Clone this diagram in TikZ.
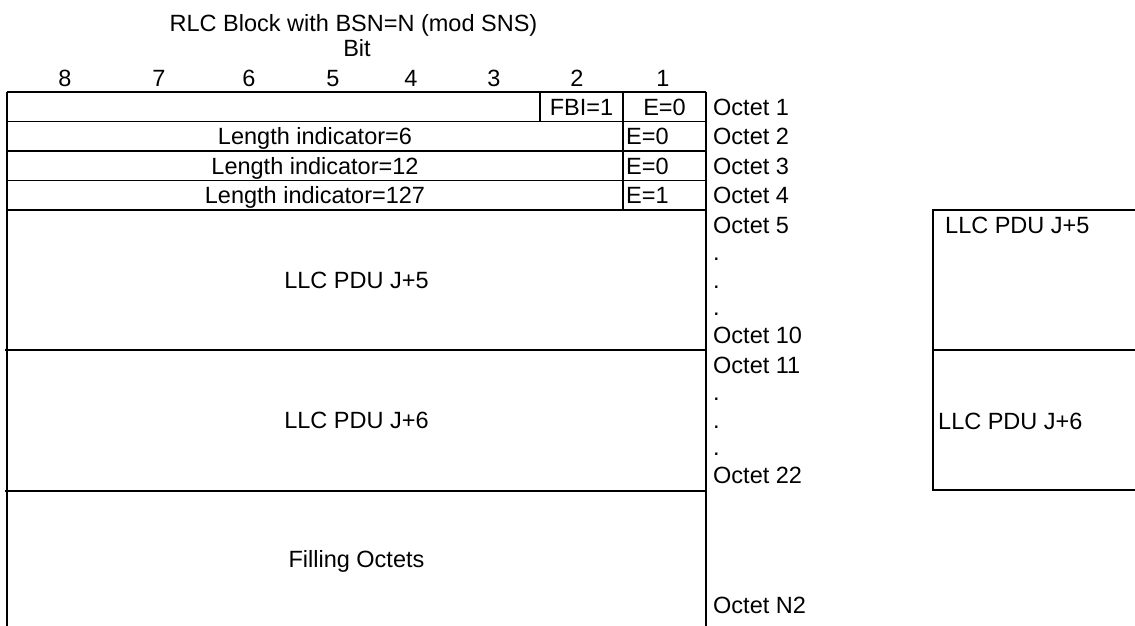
\documentclass[tikz,border=0pt]{standalone}
\usepackage{fontspec}
\setmainfont{Liberation Sans}
\begin{document}
\begin{tikzpicture}[x=1pt,y=-1pt,
  rule/.style={line width=1.8pt,black},
  txt/.style={inner sep=0pt,anchor=base,font=\fontsize{23.5}{28}\selectfont},
  ltxt/.style={txt,anchor=base west}]
\useasboundingbox (0,0) rectangle (1135,626);
% table frame
\draw[rule] (7,92) -- (706,92);
\draw[rule] (7,92) -- (7,626);
\draw[rule] (706,92) -- (706,626);
\foreach \y in {121.5,151,180.5,210} \draw[rule] (7,\y) -- (706,\y);
\draw[rule] (5,350) -- (706,350);
\draw[rule] (5,491) -- (706,491);
\draw[rule] (540,92) -- (540,121.5);
\draw[rule] (623,92) -- (623,210);
% right boxes
\draw[rule] (1135,210) -- (933,210) -- (933,490) -- (1135,490);
\draw[rule] (933,350) -- (1135,350);
% headings
\node[txt] (title) at (353.5,32) {RLC Block with BSN=N (mod SNS)};
\node[txt] (bit) at (357,57) {Bit};
\node[txt] (b8) at (65,86) {8};
\node[txt] (b7) at (159,86) {7};
\node[txt] (b6) at (249,86) {6};
\node[txt] (b5) at (333,86) {5};
\node[txt] (b4) at (411,86) {4};
\node[txt] (b3) at (494,86) {3};
\node[txt] (b2) at (577,86) {2};
\node[txt] (b1) at (663,86) {1};
% rows
\node[txt] (fbi) at (581.5,115) {FBI=1};
\node[txt] (e1) at (664.5,115) {E=0};
\node[txt] (li6) at (315,144.6) {Length indicator=6};
\node[ltxt] (e2) at (626,144.6) {E=0};
\node[txt] (li12) at (315,174) {Length indicator=12};
\node[ltxt] (e3) at (626,174) {E=0};
\node[txt] (li127) at (315,203.6) {Length indicator=127};
\node[ltxt] (e4) at (626,203.6) {E=1};
\node[txt] (pdu5) at (356.5,288) {LLC PDU J+5};
\node[txt] (pdu6) at (356.5,428.5) {LLC PDU J+6};
\node[txt] (fill) at (356.5,567) {Filling Octets};
% octet labels
\node[ltxt] (o1) at (713,115) {Octet 1};
\node[ltxt] (o2) at (713,144.6) {Octet 2};
\node[ltxt] (o3) at (713,174) {Octet 3};
\node[ltxt] (o4) at (713,203.6) {Octet 4};
\node[ltxt] (o5) at (713,233) {Octet 5};
\node[ltxt] (d1) at (713,260.5) {.};
\node[ltxt] (d2) at (713,288) {.};
\node[ltxt] (d3) at (713,315.5) {.};
\node[ltxt] (o10) at (713,343) {Octet 10};
\node[ltxt] (o11) at (713,373) {Octet 11};
\node[ltxt] (d4) at (713,400.5) {.};
\node[ltxt] (d5) at (713,428) {.};
\node[ltxt] (d6) at (713,455.5) {.};
\node[ltxt] (o22) at (713,483) {Octet 22};
\node[ltxt] (on2) at (713,613) {Octet N2};
% right box labels
\node[ltxt] (r5) at (945,233) {LLC PDU J+5};
\node[ltxt] (r6) at (938,429) {LLC PDU J+6};
\end{tikzpicture}
\end{document}
